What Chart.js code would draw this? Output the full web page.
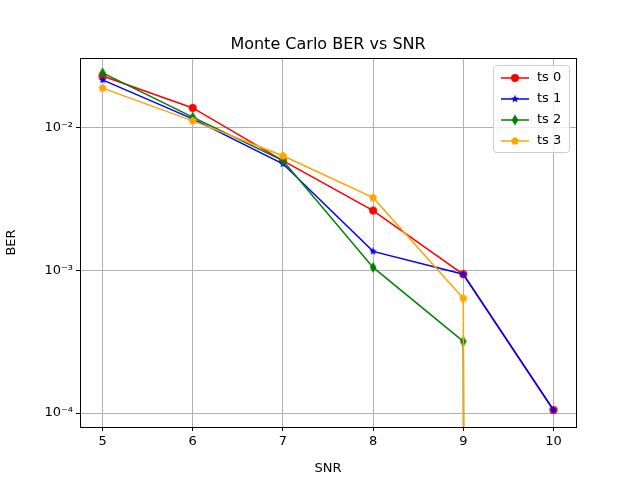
<!DOCTYPE html>
<html><head><script src="https://cdn.jsdelivr.net/npm/chart.js"></script>
<style>body{margin:0}#w{width:640px;height:480px}</style></head>
<body><div id="w"><canvas id="c"></canvas></div>
<script>
const snr=[5,6,7,8,9,10];
const ts0=[0.0231,0.0138,0.0059,0.00263,0.00094,0.000105];
const ts1=[0.0217,0.01156,0.0056,0.00136,0.00094,0.000105];
const ts2=[0.0243,0.0119,0.0059,0.00105,0.000318,0];
const ts3=[0.019,0.0112,0.00637,0.00324,0.000637,0];
const names=['ts 0','ts 1','ts 2','ts 3'];
const colors=['red','blue','green','orange'];
const yTicks=[1e-4,1e-3,1e-2];
const yLabels={'0.0001':'10⁻⁴','0.001':'10⁻³','0.01':'10⁻²'};
const F='"DejaVu Sans"';
function mk(shape,col){const s=14,c=document.createElement('canvas');c.width=s;c.height=s;const g=c.getContext('2d');g.fillStyle=col;g.beginPath();const cx=7,cy=7;
 if(shape==='circle'){g.arc(cx,cy,4,0,7);}
 else if(shape==='star'){for(let i=0;i<10;i++){const r=i%2?1.8:4.2,a=-Math.PI/2+i*Math.PI/5;g.lineTo(cx+r*Math.cos(a),cy+r*Math.sin(a));}}
 else if(shape==='diamond'){g.moveTo(cx,cy-5.5);g.lineTo(cx+3.3,cy);g.lineTo(cx,cy+5.5);g.lineTo(cx-3.3,cy);}
 else {for(let i=0;i<5;i++){const a=-Math.PI/2+i*2*Math.PI/5;g.lineTo(cx+4.2*Math.cos(a),cy+4.2*Math.sin(a));}}
 g.closePath();g.fill();return c;}
const shapes=['circle','star','diamond','pentagon'];
const marks=shapes.map((s,i)=>mk(s,colors[i]));
const series=[ts0,ts1,ts2,ts3];
const datasets=series.map((d,i)=>({label:names[i],data:d.map((v,j)=>({x:snr[j],y:v>0?v:1e-300})),borderColor:colors[i],backgroundColor:colors[i],borderWidth:1.5,
 pointStyle:marks[i],pointRadius:d.map(v=>v>0?5:0),order:3-i}));
const deco={id:'deco',afterDraw(ch){const g=ch.ctx,a=ch.chartArea;g.save();
 g.strokeStyle='#000';g.lineWidth=1;g.strokeRect(a.left+.5,a.top+.5,a.right-a.left,a.bottom-a.top);
 g.fillStyle='#000';g.font='16px '+F;g.textAlign='center';g.textBaseline='alphabetic';g.fillText('Monte Carlo BER vs SNR',(a.left+a.right)/2,49);
 const bx=493,by=65,bw=76,bh=87;g.fillStyle='rgba(255,255,255,0.8)';g.strokeStyle='#ccc';g.beginPath();g.roundRect(bx+.5,by+.5,bw,bh,3);g.fill();g.stroke();
 g.font='13px '+F;g.textAlign='left';g.textBaseline='middle';
 for(let i=0;i<4;i++){const y=by+13+i*21;g.strokeStyle=colors[i];g.lineWidth=1.5;g.beginPath();g.moveTo(bx+8,y);g.lineTo(bx+36,y);g.stroke();
  g.drawImage(marks[i],bx+22-7,y-7);g.fillStyle='#000';g.fillText(names[i],bx+44,y);}
 g.restore();}};
new Chart(document.getElementById('c'),{type:'line',data:{datasets},plugins:[deco],
options:{responsive:true,maintainAspectRatio:false,animation:false,devicePixelRatio:1,
 layout:{padding:{top:58,right:64,left:0,bottom:0}},
 plugins:{legend:{display:false},tooltip:{enabled:false}},
 scales:{x:{type:'linear',min:4.75,max:10.25,afterBuildTicks:s=>{s.ticks=snr.map(v=>({value:v}))},afterFit:s=>{s.height=53},
   grid:{color:'#b0b0b0',tickColor:'#000',tickLength:4},border:{display:false},
   ticks:{color:'#000',font:{family:F,size:13},padding:3},title:{display:true,text:'SNR',color:'#000',font:{family:F,size:13},padding:{top:2}}},
  y:{type:'logarithmic',min:Math.pow(10,-4.098),max:Math.pow(10,-1.51),afterBuildTicks:s=>{s.ticks=yTicks.map(v=>({value:v}))},afterFit:s=>{s.width=80},
   grid:{color:'#b0b0b0',tickColor:'#000',tickLength:4},border:{display:false},
   ticks:{color:'#000',font:{family:F,size:13},padding:3,callback:v=>yLabels[String(v)]||''},title:{display:true,text:'BER',color:'#000',font:{family:F,size:13},padding:{bottom:4}}}}}});
</script></body></html>
